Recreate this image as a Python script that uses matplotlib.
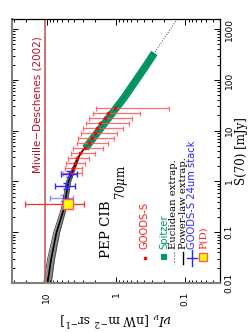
import matplotlib
matplotlib.use('Agg')
import matplotlib.pyplot as plt
from matplotlib.lines import Line2D

plt.rcParams['mathtext.fontset'] = 'dejavuserif'

# ---------------- data ----------------
# GOODS-S (red): flux cut S70 [mJy], cumulative nuI_nu and its range
goods_S = [28.3, 21.9, 17.9, 14.3, 11.1, 8.85, 7.05, 5.62, 4.48, 3.57, 2.85, 2.27, 1.84, 1.46]
goods_I = [1.03, 1.29, 1.44, 1.69, 1.89, 2.04, 2.22, 2.49, 2.77, 3.27, 3.64, 3.85, 4.18, 4.54]
goods_Ilo = [0.17, 0.45, 0.59, 0.65, 0.79, 0.97, 1.07, 1.30, 1.53, 2.00, 2.43, 2.77, 3.06, 3.06]
goods_Ihi = [1.93, 2.13, 2.43, 2.68, 2.96, 3.16, 3.49, 3.61, 4.11, 4.40, 4.85, 5.18, 5.53, 5.90]

# GOODS-S 24um stacking (blue)
stack_S = [1.40, 0.81, 0.47]
stack_Slo = [1.22, 0.70, 0.41]
stack_Shi = [1.61, 0.93, 0.54]
stack_I = [4.69, 5.35, 5.90]
stack_Ilo = [3.61, 3.85, 4.18]
stack_Ihi = [6.20, 7.69, 8.90]

# P(D)
pd_S = [0.354]
pd_I = [4.88]
pd_Ilo = [2.86]
pd_Ihi = [20.4]

# Spitzer (green)
spitzer_S = [4.5, 10, 20, 44, 100, 200, 340]
spitzer_I = [2.77, 1.77, 1.20, 0.77, 0.51, 0.36, 0.28]

# Euclidean extrapolation (dotted)
eu_S = [5, 40, 340, 1600]
eu_I = [2.60, 0.82, 0.28, 0.13]

# Power-law extrapolation (solid) and its uncertainty band
pl_S = [0.01, 0.03, 0.1, 0.3, 1, 3, 10, 30]
pl_I = [9.7, 8.6, 7.2, 5.6, 4.85, 3.5, 1.93, 1.03]
band_S = [0.01, 0.03, 0.1, 0.3, 1, 3]
band_lo = [8.6, 7.7, 6.5, 5.2, 4.5, 3.4]
band_hi = [11.0, 9.7, 7.9, 6.1, 5.2, 3.6]

# Miville-Deschenes (2002)
md_I = 10.4

xticks = [10, 1, 0.1]
xticklabels = ['10', '1', '0.1']
yticks = [0.01, 0.1, 1, 10, 100, 1000]
yticklabels = ['0.01', '0.1', '1', '10', '100', '1000']

# ---------------- figure ----------------
W, H = 248, 332
fig = plt.figure(figsize=(W / 100, H / 100), dpi=100)
ax = fig.add_axes([12 / W, 1 - 283 / H, 208 / W, 264 / H])


def fp(x, y):
    return (x / W, 1 - y / H)


ax.set_xscale('log')
ax.set_yscale('log')

# band + power law
ax.fill_betweenx(band_S, band_lo, band_hi, color='0.55', lw=0)
ax.plot(band_lo, band_S, color='0.25', lw=0.6)
ax.plot(band_hi, band_S, color='0.25', lw=0.6)
ax.plot(pl_I, pl_S, color='black', lw=1.2)

# Miville-Deschenes line
ax.axvline(md_I, color='#c85a5a', lw=1.2)

# Spitzer
ax.plot(spitzer_I, spitzer_S, color='#009966', lw=5.5, solid_capstyle='butt')

# Euclidean extrapolation
ax.plot(eu_I, eu_S, color='0.25', lw=0.7, ls=':')

# GOODS-S points
xerr = [[i - lo for i, lo in zip(goods_I, goods_Ilo)], [hi - i for i, hi in zip(goods_I, goods_Ihi)]]
ax.errorbar(goods_I, goods_S, xerr=xerr, fmt='none', ecolor='#ff5555', elinewidth=0.9,
            capsize=1.8, capthick=0.9, alpha=0.85)
ax.plot(goods_I, goods_S, 'o', color='#ff0000', ms=2.6, mew=0)

# stack points
for k in range(len(stack_S)):
    a = 1.0 if k < 2 else 0.5
    ax.errorbar([stack_I[k]], [stack_S[k]],
                xerr=[[stack_I[k] - stack_Ilo[k]], [stack_Ihi[k] - stack_I[k]]],
                yerr=[[stack_S[k] - stack_Slo[k]], [stack_Shi[k] - stack_S[k]]],
                fmt='none', ecolor='#2a2aff', elinewidth=1.0, capsize=2.2, capthick=1.0, alpha=a)

# P(D)
ax.errorbar(pd_I, pd_S, xerr=[[pd_I[0] - pd_Ilo[0]], [pd_Ihi[0] - pd_I[0]]], fmt='none',
            ecolor='#ff2a2a', elinewidth=0.9, capsize=2.0, capthick=0.9)
ax.plot(pd_I, pd_S, 's', ms=6.5, mfc='#ffff00', mec='#ff5a5a', mew=1.0)

ax.set_xlim(10 ** 1.5, 10 ** -1.5)
ax.set_ylim(0.01, 10 ** 3.2)

ax.set_xticks(xticks)
ax.set_xticklabels(xticklabels)
ax.set_yticks(yticks)
ax.set_yticklabels(yticklabels)
ax.tick_params(which='both', direction='in', top=True, bottom=True, left=True, right=True,
               labelleft=False, labelright=True, width=0.7)
ax.tick_params(which='major', length=4.5)
ax.tick_params(which='minor', length=2.2)
ax.tick_params(axis='x', labelrotation=90, pad=6, labelsize=6.5)
ax.tick_params(axis='y', pad=3.5, labelsize=6.5)
for lab in ax.get_yticklabels():
    lab.set_rotation(90)
    lab.set_va('center')

for s in ['left', 'bottom']:
    ax.spines[s].set_color('#808080')
    ax.spines[s].set_linewidth(1.5)
for s in ['top', 'right']:
    ax.spines[s].set_color('black')
    ax.spines[s].set_linewidth(0.9)

# axis labels
fig.text(*fp(241, 151), 'S(70) [mJy]', rotation=90, ha='center', va='center',
         family='DejaVu Serif', fontsize=8.5)
fig.text(*fp(116, 319), r'$\nu I_\nu$ [nW m$^{-2}$ sr$^{-1}$]', rotation=180,
         ha='center', va='center', family='DejaVu Serif', fontsize=9)

# Miville-Deschenes label
fig.text(*fp(38, 173), u'Miville\u2212Deschenes (2002)', rotation=90, rotation_mode='anchor',
         ha='left', va='center', color='#b0102a', fontsize=7.5)

# titles
fig.text(*fp(107, 258), 'PEP CIB', rotation=90, rotation_mode='anchor', ha='left', va='center',
         family='DejaVu Serif', fontsize=9.6)
fig.text(*fp(121, 200), r'70$\mu$m', rotation=90, rotation_mode='anchor', ha='left', va='center',
         family='DejaVu Serif', fontsize=8.5)

# legend
def ltext(x, s, color, family='DejaVu Sans'):
    fig.text(*fp(x, 249), s, rotation=90, rotation_mode='anchor', ha='left', va='center',
             color=color, family=family, fontsize=7.2)

fig.add_artist(Line2D([fp(145, 258)[0]], [fp(145, 258)[1]], marker='o', color='#ff0000',
                      ms=2.6, mew=0, transform=fig.transFigure))
ltext(145, 'GOODS-S', '#ff1a1a')
fig.add_artist(Line2D([fp(164, 257)[0]], [fp(164, 257)[1]], marker='s', color='#009966',
                      ms=5, mew=0, transform=fig.transFigure))
ltext(164, 'Spitzer', '#009966')
x0, y0 = fp(174, 252)
x1, y1 = fp(174, 264)
fig.add_artist(Line2D([x0, x1], [y0, y1], color='0.3', lw=0.8, ls=':', transform=fig.transFigure))
ltext(174, 'Euclidean extrap.', 'black', 'DejaVu Serif')
x0, y0 = fp(183, 252)
x1, y1 = fp(183, 264)
fig.add_artist(Line2D([x0, x1], [y0, y1], color='black', lw=1.0, transform=fig.transFigure))
ltext(183, 'Power-law extrap.', 'black', 'DejaVu Serif')
x0, y0 = fp(192, 250)
x1, y1 = fp(192, 266)
fig.add_artist(Line2D([x0, x1], [y0, y1], color='#2a2aff', lw=1.0, transform=fig.transFigure))
x0, y0 = fp(187, 258)
x1, y1 = fp(197, 258)
fig.add_artist(Line2D([x0, x1], [y0, y1], color='#2a2aff', lw=1.0, transform=fig.transFigure))
ltext(192, 'GOODS-S 24um stack', '#2a2aff')
fig.add_artist(Line2D([fp(203, 257)[0]], [fp(203, 257)[1]], marker='s', mfc='#ffff00',
                      mec='#ff5a5a', mew=1.0, ms=6, transform=fig.transFigure))
ltext(203, 'P(D)', '#ff1a1a', 'DejaVu Serif')

fig.savefig('out.png', dpi=100)
